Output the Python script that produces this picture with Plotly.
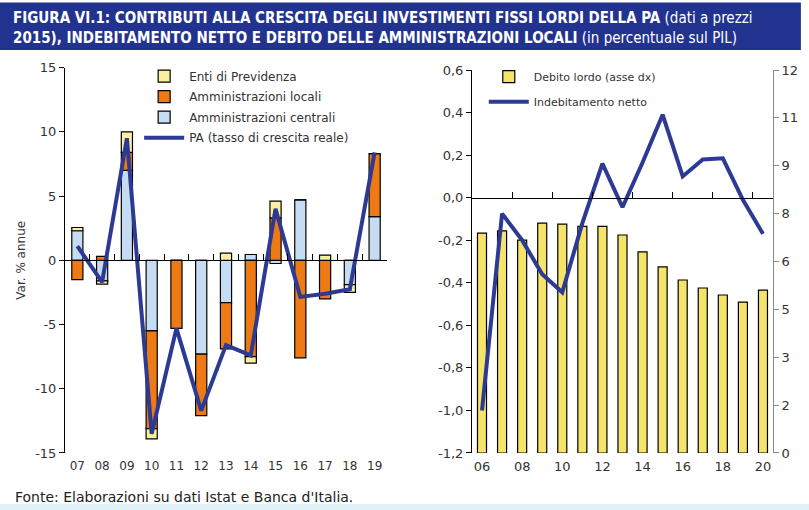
import plotly.graph_objects as go

# ---------------- data ----------------
years_left = ['07', '08', '09', '10', '11', '12', '13', '14', '15', '16', '17', '18', '19']
centrali = [2.3, -1.6, 7.0, -5.5, 0.0, -7.3, -3.3, 0.45, -0.25, 4.7, 0.0, -1.9, 3.4]
locali = [-1.5, 0.3, 1.4, -7.6, -5.3, -4.8, -3.6, -7.5, 3.3, -7.6, -3.0, 0.0, 4.9]
enti = [0.25, -0.25, 1.6, -0.8, 0.0, 0.0, 0.55, -0.5, 1.3, 0.0, 0.4, -0.6, 0.0]
pa_growth = [1.1, -1.7, 9.5, -13.5, -5.3, -11.7, -6.6, -7.4, 4.0, -2.85, -2.6, -2.25, 8.4]

years_right = ['06', '07', '08', '09', '10', '11', '12', '13', '14', '15', '16', '17', '18', '19', '20']
debito_lordo = [6.89, 6.96, 6.67, 7.2, 7.17, 7.1, 7.1, 6.83, 6.3, 5.83, 5.42, 5.17, 4.95, 4.73, 5.1]
indebitamento = [-1.0, -0.075, -0.2, -0.36, -0.445, -0.12, 0.16, -0.045, 0.165, 0.39, 0.10, 0.18, 0.185, -0.01, -0.17]

left_y_vals = [-15, -10, -5, 0, 5, 10, 15]
left_y_text = ['-15', '-10', '-5', '0', '5', '10', '15']
right_axis_vals = [0, 1.5, 3, 4.5, 6, 7.5, 9, 10.5, 12]
right_axis_text = ['0', '2', '3', '5', '6', '8', '9', '11', '12']
left2_vals = [-1.2, -1.0, -0.8, -0.6, -0.4, -0.2, 0.0, 0.2, 0.4, 0.6]
left2_text = ['-1,2', '-1,0', '-0,8', '-0,6', '-0,4', '-0,2', '0,0', '0,2', '0,4', '0,6']

# ---------------- styles ----------------
FONT = 'DejaVu Sans'
TXT = '#333333'
C_ENTI = '#fdeea0'
C_LOC = '#ee7a16'
C_CEN = '#c6dcf3'
C_LINE = '#2d3a93'
C_DEB = '#f4e46a'

LX = [0.0803, 0.4784]
RX = [0.5834, 0.9555]
YD = [0.1118, 0.8675]
RYD = [0.1118, 0.8627]

fig = go.Figure()

bar_line = dict(color='black', width=1.2)
fig.add_trace(go.Bar(x=years_left, y=centrali, name='Amministrazioni centrali',
                     marker=dict(color=C_CEN, line=bar_line), width=0.45,
                     legendgroup='cen', legendrank=3, xaxis='x', yaxis='y'))
fig.add_trace(go.Bar(x=years_left, y=locali, name='Amministrazioni locali',
                     marker=dict(color=C_LOC, line=bar_line), width=0.45,
                     legendgroup='loc', legendrank=2, xaxis='x', yaxis='y'))
fig.add_trace(go.Bar(x=years_left, y=enti, name='Enti di Previdenza',
                     marker=dict(color=C_ENTI, line=bar_line), width=0.45,
                     legendgroup='enti', legendrank=1, xaxis='x', yaxis='y'))
fig.add_trace(go.Scatter(x=years_left, y=pa_growth, name='PA (tasso di crescita reale)',
                         mode='lines', line=dict(color=C_LINE, width=4),
                         legendgroup='pa', legendrank=4, xaxis='x', yaxis='y'))

fig.add_trace(go.Bar(x=years_right, y=debito_lordo, name='Debito lordo (asse dx)',
                     marker=dict(color=C_DEB, line=bar_line), width=0.45,
                     legend='legend2', legendgroup='deb', legendrank=1, xaxis='x2', yaxis='y2'))
fig.add_trace(go.Scatter(x=years_right, y=indebitamento, name='Indebitamento netto',
                         mode='lines', line=dict(color=C_LINE, width=4),
                         legend='legend2', legendgroup='ind', legendrank=2, xaxis='x2', yaxis='y4'))

# empty helper traces so that the zero-line axes (with their tick marks) are drawn
fig.add_trace(go.Scatter(x=[None], y=[None], xaxis='x3', yaxis='y', showlegend=False,
                         hoverinfo='skip', mode='lines'))
fig.add_trace(go.Scatter(x=[None], y=[None], xaxis='x4', yaxis='y2', showlegend=False,
                         hoverinfo='skip', mode='lines'))

tf12 = dict(family=FONT, size=12, color=TXT)
tf13 = dict(family=FONT, size=13, color=TXT)

fig.update_layout(
    template='none',
    width=809, height=510,
    margin=dict(l=0, r=0, t=0, b=0, autoexpand=False),
    paper_bgcolor='white', plot_bgcolor='rgba(0,0,0,0)',
    barmode='relative', bargap=0.55,
    font=dict(family=FONT, size=12, color=TXT),
    separators=',.',
    showlegend=True,
    xaxis=dict(domain=LX, anchor='y', type='category', categoryorder='array',
               categoryarray=years_left, range=[-0.5, 12.5], automargin=False,
               showline=False, ticks='', showgrid=False, zeroline=False,
               tickfont=tf12, ticklabelstandoff=4),
    xaxis3=dict(overlaying='x', anchor='free', position=(YD[0] + YD[1]) / 2,
                range=[-0.5, 12.5], type='linear', autorange=False, automargin=False,
                tickvals=[i + 0.5 for i in range(len(years_left))],
                ticks='inside', ticklen=6, tickcolor='black', tickwidth=1,
                showline=True, linecolor='black', linewidth=1,
                showticklabels=False, showgrid=False, zeroline=False),
    yaxis=dict(domain=YD, anchor='x', range=[-15, 15], automargin=False,
               tickvals=left_y_vals, ticktext=left_y_text,
               ticks='outside', ticklen=5, tickcolor='black',
               showline=True, linecolor='black', linewidth=1,
               showgrid=False, zeroline=False, tickfont=tf13,
               title=dict(text='Var. % annue', font=dict(family=FONT, size=12, color=TXT),
                          standoff=6)),
    xaxis2=dict(domain=RX, anchor='y2', type='category', categoryorder='array',
                categoryarray=years_right, range=[-0.5, 14.5], automargin=False,
                tickvals=years_right[::2],
                showline=False, ticks='', showgrid=False, zeroline=False,
                tickfont=tf13, ticklabelstandoff=4),
    xaxis4=dict(overlaying='x2', anchor='free',
                position=RYD[0] + (1.2 / 1.8) * (RYD[1] - RYD[0]),
                range=[-0.5, 14.5], type='linear', autorange=False, automargin=False,
                tickvals=[i + 1.5 for i in range(0, len(years_right) - 1, 2)],
                ticks='inside', ticklen=6, tickcolor='black', tickwidth=1,
                showline=True, linecolor='black', linewidth=1,
                showticklabels=False, showgrid=False, zeroline=False),
    yaxis2=dict(domain=RYD, anchor='x2', side='right', range=[0, 12], automargin=False,
                tickvals=right_axis_vals, ticktext=right_axis_text,
                ticks='outside', ticklen=5, tickcolor='#888888',
                showline=True, linecolor='#888888', linewidth=1,
                showgrid=False, zeroline=False, tickfont=tf13),
    yaxis4=dict(overlaying='y2', anchor='x2', side='left', range=[-1.2, 0.6], automargin=False,
                tickvals=left2_vals, ticktext=left2_text,
                ticks='outside', ticklen=5, tickcolor='black',
                showline=True, linecolor='black', linewidth=1,
                showgrid=False, zeroline=False, tickfont=tf13),
    legend=dict(x=0.172, y=0.879, xanchor='left', yanchor='top',
                traceorder='grouped', font=dict(family=FONT, size=12, color=TXT),
                bgcolor='rgba(0,0,0,0)', itemwidth=40, tracegroupgap=1.5),
    legend2=dict(x=0.598, y=0.878, xanchor='left', yanchor='top',
                 traceorder='grouped', font=dict(family=FONT, size=11, color=TXT),
                 bgcolor='rgba(0,0,0,0)', itemwidth=40, tracegroupgap=6),
    shapes=[
        dict(type='rect', xref='paper', yref='paper', x0=0.0, x1=0.99, y0=0.902, y1=0.995,
             fillcolor='#22338f', line=dict(width=0), layer='below'),
        dict(type='rect', xref='paper', yref='paper', x0=0.0, x1=1.0, y0=0.0, y1=0.012,
             fillcolor='#dff2fa', line=dict(width=0), layer='below'),
    ],
    annotations=[
        dict(xref='paper', yref='paper', x=0.014, y=0.987, xanchor='left', yanchor='top',
             align='left', showarrow=False,
             text='<b>FIGURA VI.1: CONTRIBUTI ALLA CRESCITA DEGLI INVESTIMENTI FISSI LORDI DELLA PA</b> (dati a prezzi<br>'
                  '<b>2015), INDEBITAMENTO NETTO E DEBITO DELLE AMMINISTRAZIONI LOCALI</b> (in percentuale sul PIL)',
             font=dict(family='Liberation Sans Narrow, DejaVu Sans Condensed, Liberation Sans', size=15, color='white')),
        dict(xref='paper', yref='paper', x=0.016, y=0.026, xanchor='left', yanchor='middle',
             showarrow=False, text="Fonte: Elaborazioni su dati Istat e Banca d'Italia.",
             font=dict(family=FONT, size=14, color='#222222')),
    ],
)

fig.write_html('out.html', config={'displayModeBar': False},
               post_script="document.body.style.margin='0px';document.body.style.overflow='hidden';")
